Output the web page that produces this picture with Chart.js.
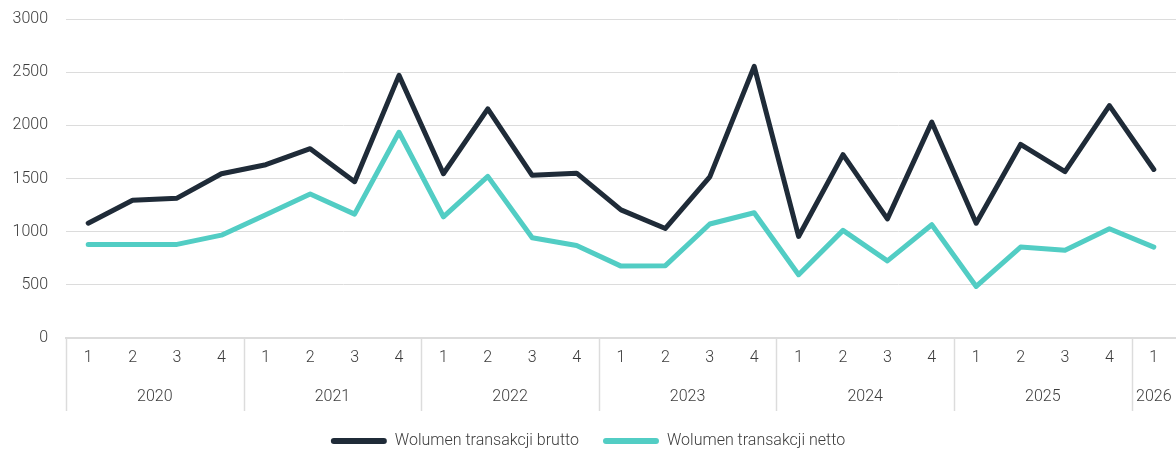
<!DOCTYPE html>
<html>
<head>
<meta charset="utf-8">
<script src="https://cdn.jsdelivr.net/npm/chart.js@4"></script>
<style>
  html, body { margin: 0; padding: 0; background: #fff; }
  #wrap { width: 1176px; height: 452px; }
</style>
</head>
<body>
<div id="wrap"><canvas id="wolumenChart"></canvas></div>
<script>
// Kwartały (kategorie osi X)
const quarterLabels = ['1', '2', '3', '4', '1', '2', '3', '4', '1', '2', '3', '4',
    '1', '2', '3', '4', '1', '2', '3', '4', '1', '2', '3', '4', '1'];

// Lata i liczba kwartałów w każdym roku
const years = ['2020', '2021', '2022', '2023', '2024', '2025', '2026'];
const quartersPerYear = [4, 4, 4, 4, 4, 4, 1];

// Wolumen transakcji brutto
const brutto = [1080, 1295, 1315, 1545, 1630, 1780, 1470, 2470,
    1545, 2155, 1530, 1550, 1205, 1030, 1515, 2555,
    955, 1725, 1120, 2030, 1080, 1820, 1565, 2185, 1585];

// Wolumen transakcji netto
const netto = [880, 880, 880, 967, 1160, 1355, 1165, 1935,
    1140, 1520, 943, 870, 676, 680, 1072, 1178,
    595, 1012, 725, 1065, 485, 855, 825, 1028, 855];

// Ticki osi Y
const yTicks = [0, 500, 1000, 1500, 2000, 2500, 3000];

const FONT = "Roboto, 'Liberation Sans Narrow', sans-serif";
const FONT_SIZE = 16;
const TEXT_COLOR = '#3c3c3c';
const LINE_GREY = '#dcdcdc';

// Lata i separatory pod osią X
const yearsPlugin = {
    id: 'years',
    afterDraw(chart) {
        const x = chart.scales.x;
        const ctx = chart.ctx;
        const top = x.top;
        const bottom = x.top + 73;
        ctx.save();
        ctx.strokeStyle = LINE_GREY;
        ctx.lineWidth = 1.5;
        ctx.fillStyle = TEXT_COLOR;
        ctx.font = '300 ' + FONT_SIZE + 'px ' + FONT;
        ctx.textAlign = 'center';
        ctx.textBaseline = 'middle';
        let start = 0;
        years.forEach((year, i) => {
            const end = start + quartersPerYear[i] - 1;
            const sx = Math.round(x.getPixelForValue(start - 0.5)) + 0.5;
            ctx.beginPath();
            ctx.moveTo(sx, top);
            ctx.lineTo(sx, bottom);
            ctx.stroke();
            ctx.fillText(year, x.getPixelForValue((start + end) / 2), top + 59);
            start = end + 1;
        });
        ctx.restore();
    }
};

const wolumenChart = new Chart(document.getElementById('wolumenChart'), {
    type: 'line',
    data: {
        labels: quarterLabels,
        datasets: [{
            label: 'Wolumen transakcji brutto',
            data: brutto,
            borderColor: '#1f2b38',
            backgroundColor: '#1f2b38',
            borderWidth: 5,
            pointRadius: 0,
            tension: 0,
            borderCapStyle: 'round',
            borderJoinStyle: 'round'
        }, {
            label: 'Wolumen transakcji netto',
            data: netto,
            borderColor: '#52cdc4',
            backgroundColor: '#52cdc4',
            borderWidth: 5,
            pointRadius: 0,
            tension: 0,
            borderCapStyle: 'round',
            borderJoinStyle: 'round'
        }]
    },
    options: {
        responsive: true,
        maintainAspectRatio: false,
        animation: false,
        layout: {
            padding: { top: 19, right: 0, bottom: -7, left: 0 }
        },
        scales: {
            x: {
                offset: true,
                grid: { display: false },
                border: { display: true, color: LINE_GREY, width: 2 },
                ticks: {
                    color: TEXT_COLOR,
                    padding: 2,
                    maxRotation: 0,
                    autoSkip: false,
                    font: { family: FONT, size: FONT_SIZE, weight: '300' }
                },
                afterFit: s => { s.height = 71; }
            },
            y: {
                min: 0,
                max: 3000,
                afterBuildTicks: s => { s.ticks = yTicks.map(v => ({ value: v })); },
                grid: { color: LINE_GREY, drawTicks: true, tickLength: 18, tickColor: 'transparent' },
                border: { display: false },
                ticks: {
                    color: TEXT_COLOR,
                    padding: 0,
                    callback: v => String(v),
                    font: { family: FONT, size: FONT_SIZE, weight: '300' }
                },
                afterFit: s => { s.width = 66; }
            }
        },
        plugins: {
            legend: {
                position: 'bottom',
                labels: {
                    color: TEXT_COLOR,
                    font: { family: FONT, size: FONT_SIZE, weight: '300' },
                    boxWidth: 56,
                    boxHeight: 6,
                    useBorderRadius: true,
                    borderRadius: 3,
                    padding: 24,
                    generateLabels: chart =>
                        Chart.defaults.plugins.legend.labels.generateLabels(chart)
                            .map(l => Object.assign(l, { lineWidth: 0, fillStyle: l.strokeStyle }))
                }
            },
            tooltip: { enabled: false }
        }
    },
    plugins: [yearsPlugin]
});
</script>
</body>
</html>
